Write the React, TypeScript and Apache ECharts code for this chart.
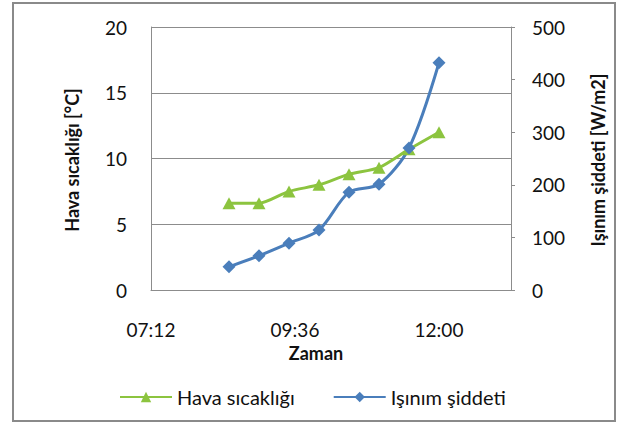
import React, { useEffect, useRef } from "react";
import * as echarts from "echarts";

// Measurement times (clock) for both series
const timeLabels = ["08:30", "09:00", "09:30", "10:00", "10:30", "11:00", "11:30", "12:00"];
// Air temperature [°C]
const havaSicakligi = [6.6, 6.6, 7.5, 8.0, 8.8, 9.3, 10.7, 12.0];
// Irradiance [W/m2]
const isinimSiddeti = [44, 65, 89, 114, 186, 201, 270, 432];

const toMinutes = (t: string) => {
  const [h, m] = t.split(":").map(Number);
  return h * 60 + m;
};
const fmtTime = (v: number) => {
  const h = Math.floor(v / 60);
  const m = Math.round(v - h * 60);
  return `${String(h).padStart(2, "0")}:${String(m).padStart(2, "0")}`;
};

const GREEN = "#8CC43F";
const BLUE = "#4A7EBB";
const GRID = "#8c8c8c";
const INK = "#111111";
const FONT = "Lato, 'Noto Sans', sans-serif";

export default function App() {
  const ref = useRef<HTMLDivElement>(null);

  useEffect(() => {
    if (!ref.current) return;
    const chart = echarts.init(ref.current, undefined, { renderer: "svg" });
    const xs = timeLabels.map(toMinutes);

    chart.setOption({
      animation: false,
      backgroundColor: "#ffffff",
      textStyle: { fontFamily: FONT },
      grid: { left: 151, right: 109, top: 27, bottom: 133, containLabel: false },
      legend: {
        left: 114,
        top: 382,
        itemWidth: 52,
        itemHeight: 13,
        itemGap: 38,
        textStyle: { fontSize: 20, color: INK, fontFamily: FONT },
        data: ["Hava sıcaklığı", "Işınım şiddeti"],
      },
      xAxis: {
        type: "value",
        min: 432,
        max: 792,
        interval: 144,
        axisLine: { show: true, lineStyle: { color: GRID, width: 1 } },
        axisTick: { show: false },
        splitLine: { show: false },
        axisLabel: {
          showMaxLabel: false,
          margin: 30,
          fontSize: 19,
          color: INK,
          fontFamily: FONT,
          formatter: (v: number) => fmtTime(v),
        },
      },
      yAxis: [
        {
          type: "value",
          min: 0,
          max: 20,
          interval: 5,
          position: "left",
          axisLine: { show: true, lineStyle: { color: GRID, width: 1 } },
          axisTick: { show: false },
          splitLine: { show: true, lineStyle: { color: GRID, width: 1 } },
          axisLabel: { margin: 24, fontSize: 19, color: INK, fontFamily: FONT },
        },
        {
          type: "value",
          min: 0,
          max: 500,
          interval: 100,
          position: "right",
          axisLine: { show: true, lineStyle: { color: GRID, width: 1 } },
          axisTick: { show: true, length: 4, inside: false, lineStyle: { color: GRID } },
          splitLine: { show: false },
          axisLabel: { margin: 21, fontSize: 19, color: INK, fontFamily: FONT },
        },
      ],
      series: [
        {
          name: "Hava sıcaklığı",
          type: "line",
          yAxisIndex: 0,
          smooth: 0.25,
          symbol: "triangle",
          symbolSize: [13, 12],
          lineStyle: { color: GREEN, width: 3 },
          itemStyle: { color: GREEN },
          data: xs.map((x, i) => [x, havaSicakligi[i]]),
        },
        {
          name: "Işınım şiddeti",
          type: "line",
          yAxisIndex: 1,
          smooth: 0.3,
          symbol: "diamond",
          symbolSize: 13,
          lineStyle: { color: BLUE, width: 3 },
          itemStyle: { color: BLUE },
          data: xs.map((x, i) => [x, isinimSiddeti[i]]),
        },
      ],
      graphic: [
        {
          type: "rect",
          shape: { x: 13, y: 3, width: 602, height: 418 },
          style: { fill: "none", stroke: "#8a8a8a", lineWidth: 2 },
          silent: true,
        },
        {
          type: "text",
          x: 72,
          y: 160,
          rotation: Math.PI / 2,
          style: {
            text: "Hava sıcaklığı [°C]",
            fontSize: 18,
            fontWeight: "bold",
            fontFamily: FONT,
            fill: INK,
            align: "center",
            verticalAlign: "middle",
          },
        },
        {
          type: "text",
          x: 598,
          y: 160,
          rotation: Math.PI / 2,
          style: {
            text: "Işınım şiddeti [W/m2]",
            fontSize: 18,
            fontWeight: "bold",
            fontFamily: FONT,
            fill: INK,
            align: "center",
            verticalAlign: "middle",
          },
        },
        {
          type: "text",
          x: 316,
          y: 353,
          style: {
            text: "Zaman",
            fontSize: 18,
            fontWeight: "bold",
            fontFamily: FONT,
            fill: INK,
            align: "center",
            verticalAlign: "middle",
          },
        },
      ],
    });

    return () => chart.dispose();
  }, []);

  return (
    <div
      ref={ref}
      style={{ position: "fixed", left: 0, top: 0, width: 620, height: 423 }}
    />
  );
}
